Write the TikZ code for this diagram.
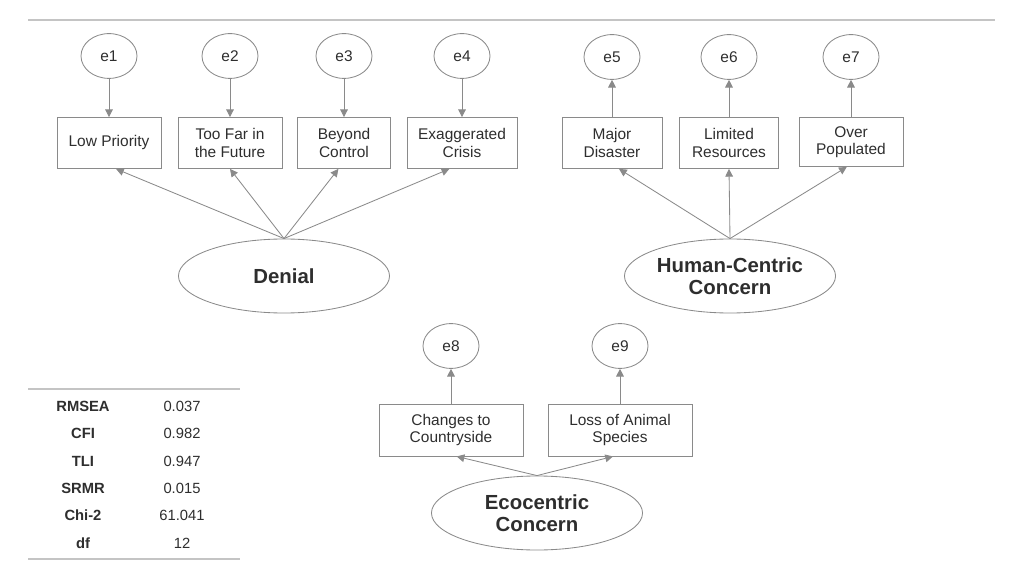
\documentclass[tikz,border=0pt]{standalone}
\usepackage{fontspec}
\setmainfont{Liberation Sans}
\usetikzlibrary{arrows.meta,positioning,shapes.geometric}
\definecolor{edge}{HTML}{8A8A8A}
\definecolor{ink}{HTML}{2E2E2E}
\definecolor{rule}{HTML}{C4C4C4}

\tikzset{
  item/.style={draw=edge,line width=0.6pt,rectangle,minimum height=1.275cm,align=center,
    font=\fontsize{11}{12.5}\selectfont,text=ink,inner sep=1pt},
  err/.style={draw=edge,line width=0.6pt,ellipse,minimum width=1.4cm,minimum height=1.12cm,
    inner sep=0pt,font=\fontsize{11}{12}\selectfont,text=ink},
  factor/.style={draw=edge,line width=0.6pt,ellipse,minimum width=5.275cm,minimum height=1.85cm,
    inner sep=0pt,align=center,font=\fontsize{14.5}{16}\selectfont\bfseries,text=ink},
  link/.style={edge,line width=0.6pt,-{Triangle[length=5.5pt,width=5.5pt]}},
  fitname/.style={font=\fontsize{10.5}{12}\selectfont\bfseries,text=ink},
  fitval/.style={font=\fontsize{10.5}{12}\selectfont,text=ink},
}

\begin{document}
\begin{tikzpicture}[x=0.025cm,y=-0.025cm]
  \useasboundingbox (0,0) rectangle (1024,576);
  \draw[rule,line width=0.8pt] (28,20) -- (995,20);

  % Denial
  \node[err] (e1) at (109,56) {e1};
  \node[err] (e2) at (230,56) {e2};
  \node[err] (e3) at (344,56) {e3};
  \node[err] (e4) at (462,56) {e4};
  \node[item,minimum width=2.6cm] (lowp) at (109,143) {Low Priority};
  \node[item,minimum width=2.6cm] (toofar) at (230,143) {Too Far in\\the Future};
  \node[item,minimum width=2.33cm] (beyond) at (344,143) {Beyond\\Control};
  \node[item,minimum width=2.75cm] (exag) at (462,143) {Exaggerated\\Crisis};
  \node[factor] (denial) at (284,276) {Denial};

  \draw[link] (e1) -- (lowp);
  \draw[link] (e2) -- (toofar);
  \draw[link] (e3) -- (beyond);
  \draw[link] (e4) -- (exag);
  \draw[link] (denial.north) -- ([xshift=5]lowp.south);
  \draw[link] (denial.north) -- (toofar.south);
  \draw[link] (denial.north) -- ([xshift=-4]beyond.south);
  \draw[link] (denial.north) -- ([xshift=-9]exag.south);

  % Human-centric
  \node[err] (e5) at (612,57) {e5};
  \node[err] (e6) at (729,57) {e6};
  \node[err] (e7) at (851,57) {e7};
  \node[item,minimum width=2.5cm] (major) at (612,143) {Major\\Disaster};
  \node[item,minimum width=2.48cm] (limited) at (729,143) {Limited\\Resources};
  \node[item,minimum width=2.6cm,minimum height=1.225cm] (overpop) at (851,142) {Over\\Populated};
  \node[factor] (human) at (730,276) {Human-Centric\\Concern};

  \draw[link] (major) -- (e5);
  \draw[link] (limited) -- (e6);
  \draw[link] (overpop) -- (e7);
  \draw[link] (human.north) -- ([xshift=5]major.south);
  \draw[link] (human.north) -- (limited.south);
  \draw[link] (human.north) -- ([xshift=-3]overpop.south);

  % Ecocentric
  \node[err] (e8) at (451,346) {e8};
  \node[err] (e9) at (620,346) {e9};
  \node[item,minimum width=3.6cm,minimum height=1.3cm] (country) at (451,430) {Changes to\\Countryside};
  \node[item,minimum width=3.6cm,minimum height=1.3cm] (animal) at (620,430) {Loss of Animal\\Species};
  \node[factor] (eco) at (537,513) {Ecocentric\\Concern};

  \draw[link] (country) -- (e8);
  \draw[link] (animal) -- (e9);
  \draw[link] (eco.north) -- ([xshift=4]country.south);
  \draw[link] (eco.north) -- ([xshift=-5]animal.south);

  % Fit table
  \draw[rule,line width=0.8pt] (28,389) -- (240,389);
  \draw[rule,line width=0.8pt] (28,559) -- (240,559);
  \node[fitname] (rmsea) at (83,406) {RMSEA};
  \node[fitname] (cfi) at (83,433) {CFI};
  \node[fitname] (tli) at (83,461) {TLI};
  \node[fitname] (srmr) at (83,488) {SRMR};
  \node[fitname] (chi) at (83,515) {Chi-2};
  \node[fitname] (df) at (83,543) {df};
  \node[fitval] (rmseav) at (182,406) {0.037};
  \node[fitval] (cfiv) at (182,433) {0.982};
  \node[fitval] (tliv) at (182,461) {0.947};
  \node[fitval] (srmrv) at (182,488) {0.015};
  \node[fitval] (chiv) at (182,515) {61.041};
  \node[fitval] (dfv) at (182,543) {12};
\end{tikzpicture}
\end{document}
